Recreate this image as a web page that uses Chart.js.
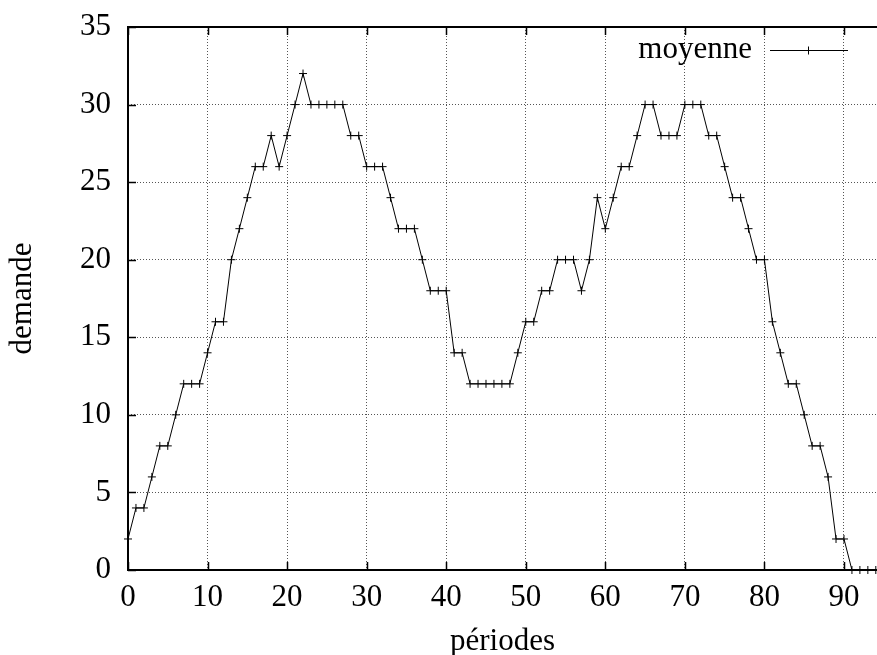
<!DOCTYPE html>
<html>
<head>
<meta charset="utf-8">
<script src="https://cdn.jsdelivr.net/npm/chart.js@4"></script>
<style>
  body { margin: 0; background: #fff; }
  #wrap { width: 877px; height: 655px; }
</style>
</head>
<body>
<div id="wrap"><canvas id="myChart"></canvas></div>
<script>
const periodes = [
  0, 1, 2, 3, 4, 5, 6, 7, 8, 9,
  10, 11, 12, 13, 14, 15, 16, 17, 18, 19,
  20, 21, 22, 23, 24, 25, 26, 27, 28, 29,
  30, 31, 32, 33, 34, 35, 36, 37, 38, 39,
  40, 41, 42, 43, 44, 45, 46, 47, 48, 49,
  50, 51, 52, 53, 54, 55, 56, 57, 58, 59,
  60, 61, 62, 63, 64, 65, 66, 67, 68, 69,
  70, 71, 72, 73, 74, 75, 76, 77, 78, 79,
  80, 81, 82, 83, 84, 85, 86, 87, 88, 89,
  90, 91, 92, 93, 94
];
const moyenne = [
  2, 4, 4, 6, 8, 8, 10, 12, 12, 12,
  14, 16, 16, 20, 22, 24, 26, 26, 28, 26,
  28, 30, 32, 30, 30, 30, 30, 30, 28, 28,
  26, 26, 26, 24, 22, 22, 22, 20, 18, 18,
  18, 14, 14, 12, 12, 12, 12, 12, 12, 14,
  16, 16, 18, 18, 20, 20, 20, 18, 20, 24,
  22, 24, 26, 26, 28, 30, 30, 28, 28, 28,
  30, 30, 30, 28, 28, 26, 24, 24, 22, 20,
  20, 16, 14, 12, 12, 10, 8, 8, 6, 2,
  2, 0, 0, 0, 0
];
const xTicks = [0, 10, 20, 30, 40, 50, 60, 70, 80, 90];
const yTicks = [0, 5, 10, 15, 20, 25, 30, 35];

const police = 'Liberation Serif';

// cadre noir + petites graduations vers l'intérieur (style gnuplot)
const cadre = {
  id: 'cadre',
  afterDraw(chart) {
    const {ctx, chartArea: a, scales} = chart;
    ctx.save();
    ctx.strokeStyle = '#000';
    ctx.lineWidth = 1.5;
    ctx.beginPath();
    yTicks.forEach(v => {
      const y = Math.round(scales.y.getPixelForValue(v)) + 0.5;
      ctx.moveTo(a.left, y); ctx.lineTo(a.left + 8, y);
    });
    xTicks.forEach(v => {
      const x = Math.round(scales.x.getPixelForValue(v)) + 0.5;
      ctx.moveTo(x, a.bottom); ctx.lineTo(x, a.bottom - 8);
      ctx.moveTo(x, a.top); ctx.lineTo(x, a.top + 8);
    });
    ctx.stroke();
    ctx.lineWidth = 2;
    ctx.beginPath();
    ctx.moveTo(a.right + 1, a.top);
    ctx.lineTo(a.left, a.top);
    ctx.lineTo(a.left, a.bottom);
    ctx.lineTo(a.right + 1, a.bottom);
    ctx.stroke();

    // légende en haut à droite : texte puis trait avec marqueur
    const ds = chart.data.datasets[0];
    ctx.font = '31px "' + police + '"';
    ctx.fillStyle = '#000';
    ctx.textAlign = 'right';
    ctx.textBaseline = 'alphabetic';
    ctx.fillText(ds.label, 752, 58);
    ctx.lineWidth = 1;
    ctx.beginPath();
    ctx.moveTo(770, 50.5); ctx.lineTo(848, 50.5);
    ctx.stroke();
    Chart.helpers.drawPoint(ctx, {pointStyle: 'cross', radius: 4, borderWidth: 1, rotation: 0}, 808.5, 50.5);
    ctx.restore();
  }
};

new Chart(document.getElementById('myChart'), {
  type: 'line',
  data: {
    labels: periodes,
    datasets: [{
      label: 'moyenne',
      data: periodes.map((p, i) => ({x: p, y: moyenne[i]})),
      borderColor: '#000',
      backgroundColor: '#000',
      borderWidth: 1,
      tension: 0,
      pointStyle: 'cross',
      pointRadius: 4,
      pointBorderWidth: 1,
      pointBorderColor: '#000',
      clip: false
    }]
  },
  plugins: [cadre],
  options: {
    responsive: true,
    maintainAspectRatio: false,
    animation: false,
    layout: { autoPadding: false, padding: { top: 27, right: 0, left: 0, bottom: 0 } },
    plugins: {
      legend: { display: false },
      tooltip: { enabled: false }
    },
    scales: {
      x: {
        type: 'linear',
        min: 0,
        max: 94.15,
        afterBuildTicks: s => { s.ticks = xTicks.map(v => ({value: v})); },
        afterFit: s => { s.height = 85; s.paddingLeft = 0; s.paddingRight = 0; },
        grid: { color: '#555', lineWidth: 1, drawTicks: false },
        border: { display: false, dash: [1, 2] },
        ticks: {
          autoSkip: false, maxRotation: 0, padding: 9,
          color: '#000', font: { family: police, size: 31 }
        },
        title: {
          display: true, text: 'périodes', color: '#000',
          font: { family: police, size: 31 },
          padding: { top: 0, bottom: -5 }
        }
      },
      y: {
        min: 0,
        max: 35,
        afterBuildTicks: s => { s.ticks = yTicks.map(v => ({value: v})); },
        afterFit: s => { s.width = 128; s.paddingTop = 0; s.paddingBottom = 0; },
        grid: { color: '#555', lineWidth: 1, drawTicks: false },
        border: { display: false, dash: [1, 2] },
        ticks: {
          padding: 17,
          color: '#000', font: { family: police, size: 31 }
        },
        title: {
          display: true, text: 'demande', color: '#000',
          font: { family: police, size: 31 },
          padding: { top: 4, bottom: 0 }
        }
      }
    }
  }
});
</script>
</body>
</html>
